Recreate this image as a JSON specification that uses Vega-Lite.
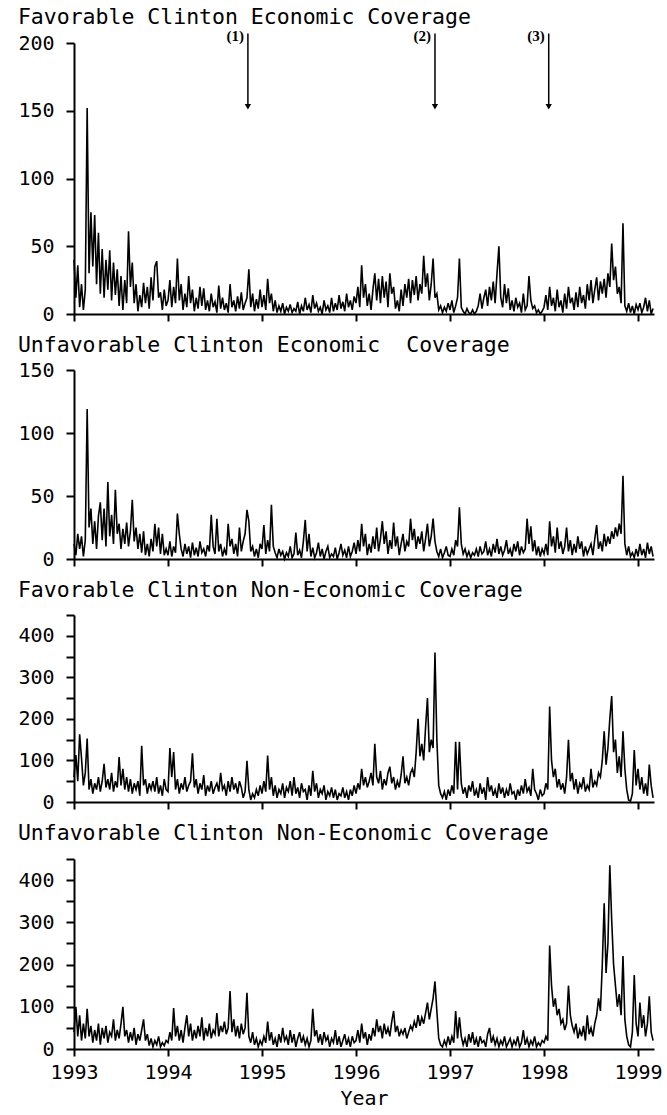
{
"$schema": "https://vega.github.io/schema/vega-lite/v6.json",
"background": "white",
"padding": {"left": 17, "top": 6, "right": 4, "bottom": 4},
"config": {
 "view": {"stroke": null},
 "font": "DejaVu Sans Mono",
 "axis": {"labelFont": "DejaVu Sans Mono", "labelFontSize": 20, "labelColor": "black", "domainColor": "black", "tickColor": "black", "grid": false, "domainWidth": 2, "tickWidth": 2, "titleFont": "DejaVu Sans Mono", "titleFontSize": 20, "titleFontWeight": "normal", "titleColor": "black"},
 "axisY": {"tickSize": 8, "labelPadding": 12},
 "axisX": {"tickSize": 7, "labelFlush": false},
 "title": {"font": "DejaVu Sans Mono", "fontSize": 21.5, "fontWeight": "normal", "anchor": "start", "frame": "bounds", "color": "black"},
 "concat": {"spacing": 10}
},
"datasets": {
"arr": [{"t": 1994.85, "lab": "(1)"}, {"t": 1996.84, "lab": "(2)"}, {"t": 1998.05, "lab": "(3)"}],
"d": [
{"t":1993.00,"fe":40,"ue":12,"fn":60,"un":40},
{"t":1993.02,"fe":12,"ue":3,"fn":113,"un":100},
{"t":1993.04,"fe":36,"ue":20,"fn":50,"un":30},
{"t":1993.06,"fe":5,"ue":8,"fn":163,"un":80},
{"t":1993.08,"fe":22,"ue":18,"fn":105,"un":20},
{"t":1993.10,"fe":3,"ue":2,"fn":40,"un":60},
{"t":1993.12,"fe":18,"ue":15,"fn":70,"un":25},
{"t":1993.14,"fe":152,"ue":119,"fn":153,"un":95},
{"t":1993.16,"fe":30,"ue":25,"fn":30,"un":30},
{"t":1993.18,"fe":75,"ue":40,"fn":55,"un":55},
{"t":1993.20,"fe":35,"ue":12,"fn":20,"un":15},
{"t":1993.22,"fe":73,"ue":30,"fn":45,"un":45},
{"t":1993.24,"fe":22,"ue":8,"fn":30,"un":20},
{"t":1993.26,"fe":60,"ue":34,"fn":60,"un":60},
{"t":1993.28,"fe":15,"ue":45,"fn":25,"un":10},
{"t":1993.30,"fe":48,"ue":15,"fn":50,"un":50},
{"t":1993.32,"fe":12,"ue":40,"fn":92,"un":25},
{"t":1993.34,"fe":40,"ue":10,"fn":35,"un":55},
{"t":1993.36,"fe":18,"ue":61,"fn":55,"un":15},
{"t":1993.38,"fe":47,"ue":18,"fn":30,"un":40},
{"t":1993.40,"fe":10,"ue":35,"fn":70,"un":30},
{"t":1993.42,"fe":38,"ue":12,"fn":25,"un":70},
{"t":1993.44,"fe":14,"ue":55,"fn":50,"un":20},
{"t":1993.46,"fe":33,"ue":20,"fn":35,"un":45},
{"t":1993.48,"fe":6,"ue":28,"fn":108,"un":25},
{"t":1993.50,"fe":28,"ue":8,"fn":40,"un":60},
{"t":1993.52,"fe":3,"ue":24,"fn":80,"un":100},
{"t":1993.54,"fe":25,"ue":12,"fn":30,"un":30},
{"t":1993.56,"fe":8,"ue":29,"fn":60,"un":45},
{"t":1993.58,"fe":61,"ue":10,"fn":25,"un":15},
{"t":1993.60,"fe":20,"ue":22,"fn":55,"un":40},
{"t":1993.62,"fe":38,"ue":47,"fn":20,"un":20},
{"t":1993.64,"fe":8,"ue":14,"fn":45,"un":50},
{"t":1993.66,"fe":22,"ue":25,"fn":30,"un":10},
{"t":1993.68,"fe":2,"ue":8,"fn":50,"un":35},
{"t":1993.70,"fe":14,"ue":20,"fn":15,"un":20},
{"t":1993.72,"fe":5,"ue":5,"fn":135,"un":45},
{"t":1993.74,"fe":23,"ue":22,"fn":40,"un":70},
{"t":1993.76,"fe":8,"ue":3,"fn":55,"un":20},
{"t":1993.78,"fe":20,"ue":12,"fn":20,"un":35},
{"t":1993.80,"fe":4,"ue":2,"fn":45,"un":8},
{"t":1993.82,"fe":27,"ue":16,"fn":30,"un":25},
{"t":1993.84,"fe":10,"ue":6,"fn":50,"un":5},
{"t":1993.86,"fe":35,"ue":28,"fn":25,"un":20},
{"t":1993.88,"fe":39,"ue":10,"fn":60,"un":10},
{"t":1993.90,"fe":12,"ue":25,"fn":20,"un":30},
{"t":1993.92,"fe":16,"ue":4,"fn":40,"un":5},
{"t":1993.94,"fe":3,"ue":20,"fn":15,"un":15},
{"t":1993.96,"fe":18,"ue":3,"fn":55,"un":8},
{"t":1993.98,"fe":6,"ue":8,"fn":30,"un":20},
{"t":1994.00,"fe":10,"ue":3,"fn":25,"un":15},
{"t":1994.02,"fe":25,"ue":14,"fn":130,"un":40},
{"t":1994.04,"fe":5,"ue":2,"fn":60,"un":20},
{"t":1994.06,"fe":20,"ue":10,"fn":120,"un":97},
{"t":1994.08,"fe":8,"ue":5,"fn":30,"un":30},
{"t":1994.10,"fe":41,"ue":36,"fn":55,"un":55},
{"t":1994.12,"fe":10,"ue":20,"fn":20,"un":20},
{"t":1994.14,"fe":22,"ue":8,"fn":45,"un":45},
{"t":1994.16,"fe":3,"ue":2,"fn":30,"un":15},
{"t":1994.18,"fe":15,"ue":12,"fn":60,"un":50},
{"t":1994.20,"fe":5,"ue":4,"fn":25,"un":80},
{"t":1994.22,"fe":28,"ue":10,"fn":40,"un":30},
{"t":1994.24,"fe":8,"ue":1,"fn":50,"un":60},
{"t":1994.26,"fe":18,"ue":13,"fn":117,"un":20},
{"t":1994.28,"fe":2,"ue":3,"fn":35,"un":45},
{"t":1994.30,"fe":12,"ue":9,"fn":55,"un":25},
{"t":1994.32,"fe":4,"ue":2,"fn":20,"un":55},
{"t":1994.34,"fe":20,"ue":14,"fn":45,"un":30},
{"t":1994.36,"fe":6,"ue":5,"fn":30,"un":75},
{"t":1994.38,"fe":19,"ue":8,"fn":65,"un":20},
{"t":1994.40,"fe":3,"ue":2,"fn":15,"un":50},
{"t":1994.42,"fe":10,"ue":11,"fn":40,"un":30},
{"t":1994.44,"fe":2,"ue":6,"fn":25,"un":60},
{"t":1994.46,"fe":15,"ue":35,"fn":50,"un":25},
{"t":1994.48,"fe":5,"ue":10,"fn":20,"un":45},
{"t":1994.50,"fe":9,"ue":4,"fn":35,"un":35},
{"t":1994.52,"fe":1,"ue":32,"fn":45,"un":85},
{"t":1994.54,"fe":21,"ue":6,"fn":25,"un":30},
{"t":1994.56,"fe":4,"ue":12,"fn":70,"un":55},
{"t":1994.58,"fe":12,"ue":2,"fn":30,"un":40},
{"t":1994.60,"fe":3,"ue":8,"fn":40,"un":65},
{"t":1994.62,"fe":8,"ue":3,"fn":15,"un":35},
{"t":1994.64,"fe":1,"ue":28,"fn":50,"un":50},
{"t":1994.66,"fe":22,"ue":10,"fn":25,"un":137},
{"t":1994.68,"fe":5,"ue":16,"fn":60,"un":40},
{"t":1994.70,"fe":10,"ue":4,"fn":30,"un":70},
{"t":1994.72,"fe":2,"ue":12,"fn":45,"un":30},
{"t":1994.74,"fe":13,"ue":2,"fn":20,"un":55},
{"t":1994.76,"fe":4,"ue":25,"fn":50,"un":25},
{"t":1994.78,"fe":16,"ue":6,"fn":35,"un":60},
{"t":1994.80,"fe":3,"ue":14,"fn":10,"un":35},
{"t":1994.82,"fe":8,"ue":20,"fn":25,"un":50},
{"t":1994.84,"fe":12,"ue":39,"fn":99,"un":133},
{"t":1994.86,"fe":33,"ue":30,"fn":30,"un":30},
{"t":1994.88,"fe":5,"ue":6,"fn":5,"un":15},
{"t":1994.90,"fe":15,"ue":10,"fn":20,"un":40},
{"t":1994.92,"fe":2,"ue":2,"fn":10,"un":10},
{"t":1994.94,"fe":11,"ue":8,"fn":30,"un":25},
{"t":1994.96,"fe":4,"ue":1,"fn":15,"un":5},
{"t":1994.98,"fe":18,"ue":12,"fn":40,"un":20},
{"t":1995.00,"fe":5,"ue":8,"fn":20,"un":10},
{"t":1995.02,"fe":14,"ue":27,"fn":50,"un":30},
{"t":1995.04,"fe":3,"ue":4,"fn":25,"un":15},
{"t":1995.06,"fe":26,"ue":15,"fn":112,"un":65},
{"t":1995.08,"fe":8,"ue":6,"fn":30,"un":20},
{"t":1995.10,"fe":15,"ue":43,"fn":60,"un":40},
{"t":1995.12,"fe":2,"ue":10,"fn":15,"un":10},
{"t":1995.14,"fe":10,"ue":5,"fn":40,"un":25},
{"t":1995.16,"fe":1,"ue":1,"fn":10,"un":5},
{"t":1995.18,"fe":6,"ue":8,"fn":30,"un":35},
{"t":1995.20,"fe":2,"ue":3,"fn":20,"un":15},
{"t":1995.22,"fe":8,"ue":6,"fn":45,"un":50},
{"t":1995.24,"fe":0,"ue":0,"fn":10,"un":20},
{"t":1995.26,"fe":5,"ue":5,"fn":35,"un":30},
{"t":1995.28,"fe":2,"ue":2,"fn":25,"un":10},
{"t":1995.30,"fe":7,"ue":10,"fn":50,"un":45},
{"t":1995.32,"fe":1,"ue":1,"fn":15,"un":15},
{"t":1995.34,"fe":4,"ue":4,"fn":60,"un":35},
{"t":1995.36,"fe":2,"ue":21,"fn":20,"un":5},
{"t":1995.38,"fe":9,"ue":3,"fn":35,"un":25},
{"t":1995.40,"fe":0,"ue":7,"fn":10,"un":40},
{"t":1995.42,"fe":6,"ue":1,"fn":45,"un":15},
{"t":1995.44,"fe":2,"ue":14,"fn":25,"un":30},
{"t":1995.46,"fe":12,"ue":31,"fn":30,"un":10},
{"t":1995.48,"fe":3,"ue":6,"fn":5,"un":25},
{"t":1995.50,"fe":7,"ue":20,"fn":40,"un":5},
{"t":1995.52,"fe":1,"ue":2,"fn":15,"un":20},
{"t":1995.54,"fe":14,"ue":9,"fn":75,"un":95},
{"t":1995.56,"fe":4,"ue":1,"fn":25,"un":30},
{"t":1995.58,"fe":8,"ue":5,"fn":45,"un":45},
{"t":1995.60,"fe":2,"ue":13,"fn":10,"un":15},
{"t":1995.62,"fe":5,"ue":2,"fn":30,"un":35},
{"t":1995.64,"fe":0,"ue":8,"fn":20,"un":10},
{"t":1995.66,"fe":10,"ue":0,"fn":40,"un":40},
{"t":1995.68,"fe":3,"ue":6,"fn":5,"un":20},
{"t":1995.70,"fe":6,"ue":10,"fn":25,"un":30},
{"t":1995.72,"fe":1,"ue":1,"fn":15,"un":5},
{"t":1995.74,"fe":12,"ue":4,"fn":35,"un":25},
{"t":1995.76,"fe":2,"ue":2,"fn":10,"un":15},
{"t":1995.78,"fe":8,"ue":9,"fn":30,"un":45},
{"t":1995.80,"fe":3,"ue":0,"fn":5,"un":10},
{"t":1995.82,"fe":14,"ue":5,"fn":20,"un":30},
{"t":1995.84,"fe":4,"ue":12,"fn":15,"un":5},
{"t":1995.86,"fe":9,"ue":3,"fn":35,"un":20},
{"t":1995.88,"fe":2,"ue":7,"fn":10,"un":35},
{"t":1995.90,"fe":15,"ue":1,"fn":25,"un":10},
{"t":1995.92,"fe":5,"ue":10,"fn":5,"un":25},
{"t":1995.94,"fe":10,"ue":2,"fn":30,"un":5},
{"t":1995.96,"fe":3,"ue":6,"fn":15,"un":30},
{"t":1995.98,"fe":13,"ue":13,"fn":40,"un":15},
{"t":1996.00,"fe":8,"ue":4,"fn":20,"un":20},
{"t":1996.02,"fe":20,"ue":15,"fn":45,"un":45},
{"t":1996.04,"fe":5,"ue":6,"fn":30,"un":15},
{"t":1996.06,"fe":36,"ue":28,"fn":80,"un":60},
{"t":1996.08,"fe":12,"ue":10,"fn":40,"un":25},
{"t":1996.10,"fe":22,"ue":20,"fn":60,"un":40},
{"t":1996.12,"fe":6,"ue":3,"fn":35,"un":10},
{"t":1996.14,"fe":15,"ue":12,"fn":50,"un":35},
{"t":1996.16,"fe":3,"ue":5,"fn":70,"un":20},
{"t":1996.18,"fe":18,"ue":18,"fn":40,"un":50},
{"t":1996.20,"fe":30,"ue":8,"fn":140,"un":30},
{"t":1996.22,"fe":10,"ue":25,"fn":60,"un":70},
{"t":1996.24,"fe":26,"ue":6,"fn":45,"un":40},
{"t":1996.26,"fe":8,"ue":16,"fn":75,"un":55},
{"t":1996.28,"fe":28,"ue":30,"fn":30,"un":25},
{"t":1996.30,"fe":12,"ue":12,"fn":55,"un":60},
{"t":1996.32,"fe":24,"ue":22,"fn":40,"un":35},
{"t":1996.34,"fe":5,"ue":4,"fn":70,"un":50},
{"t":1996.36,"fe":30,"ue":15,"fn":85,"un":30},
{"t":1996.38,"fe":15,"ue":8,"fn":45,"un":65},
{"t":1996.40,"fe":20,"ue":29,"fn":60,"un":90},
{"t":1996.42,"fe":4,"ue":10,"fn":30,"un":40},
{"t":1996.44,"fe":10,"ue":18,"fn":50,"un":55},
{"t":1996.46,"fe":2,"ue":3,"fn":35,"un":30},
{"t":1996.48,"fe":18,"ue":12,"fn":65,"un":45},
{"t":1996.50,"fe":6,"ue":20,"fn":110,"un":35},
{"t":1996.52,"fe":22,"ue":6,"fn":45,"un":50},
{"t":1996.54,"fe":12,"ue":14,"fn":60,"un":25},
{"t":1996.56,"fe":26,"ue":10,"fn":40,"un":40},
{"t":1996.58,"fe":8,"ue":32,"fn":70,"un":55},
{"t":1996.60,"fe":25,"ue":15,"fn":80,"un":45},
{"t":1996.62,"fe":14,"ue":24,"fn":60,"un":65},
{"t":1996.64,"fe":28,"ue":8,"fn":120,"un":50},
{"t":1996.66,"fe":10,"ue":18,"fn":200,"un":80},
{"t":1996.68,"fe":22,"ue":12,"fn":110,"un":55},
{"t":1996.70,"fe":15,"ue":22,"fn":140,"un":75},
{"t":1996.72,"fe":43,"ue":6,"fn":100,"un":60},
{"t":1996.74,"fe":20,"ue":16,"fn":180,"un":85},
{"t":1996.76,"fe":30,"ue":28,"fn":250,"un":110},
{"t":1996.78,"fe":10,"ue":10,"fn":120,"un":70},
{"t":1996.80,"fe":22,"ue":18,"fn":150,"un":95},
{"t":1996.82,"fe":41,"ue":32,"fn":130,"un":120},
{"t":1996.84,"fe":12,"ue":14,"fn":360,"un":160},
{"t":1996.86,"fe":15,"ue":6,"fn":150,"un":90},
{"t":1996.88,"fe":3,"ue":2,"fn":40,"un":25},
{"t":1996.90,"fe":6,"ue":8,"fn":20,"un":10},
{"t":1996.92,"fe":1,"ue":1,"fn":10,"un":5},
{"t":1996.94,"fe":5,"ue":5,"fn":25,"un":20},
{"t":1996.96,"fe":2,"ue":10,"fn":5,"un":8},
{"t":1996.98,"fe":8,"ue":3,"fn":30,"un":30},
{"t":1997.00,"fe":3,"ue":2,"fn":15,"un":10},
{"t":1997.02,"fe":10,"ue":8,"fn":40,"un":30},
{"t":1997.04,"fe":1,"ue":3,"fn":20,"un":15},
{"t":1997.06,"fe":6,"ue":15,"fn":145,"un":90},
{"t":1997.08,"fe":12,"ue":10,"fn":30,"un":25},
{"t":1997.10,"fe":41,"ue":41,"fn":145,"un":75},
{"t":1997.12,"fe":5,"ue":12,"fn":45,"un":30},
{"t":1997.14,"fe":2,"ue":4,"fn":20,"un":10},
{"t":1997.16,"fe":0,"ue":8,"fn":35,"un":25},
{"t":1997.18,"fe":4,"ue":2,"fn":10,"un":5},
{"t":1997.20,"fe":1,"ue":6,"fn":40,"un":35},
{"t":1997.22,"fe":0,"ue":1,"fn":25,"un":15},
{"t":1997.24,"fe":3,"ue":5,"fn":50,"un":40},
{"t":1997.26,"fe":0,"ue":3,"fn":15,"un":10},
{"t":1997.28,"fe":2,"ue":8,"fn":30,"un":25},
{"t":1997.30,"fe":6,"ue":2,"fn":10,"un":5},
{"t":1997.32,"fe":15,"ue":10,"fn":45,"un":30},
{"t":1997.34,"fe":4,"ue":4,"fn":20,"un":15},
{"t":1997.36,"fe":12,"ue":6,"fn":35,"un":20},
{"t":1997.38,"fe":18,"ue":14,"fn":5,"un":5},
{"t":1997.40,"fe":6,"ue":3,"fn":60,"un":35},
{"t":1997.42,"fe":20,"ue":8,"fn":25,"un":50},
{"t":1997.44,"fe":10,"ue":2,"fn":40,"un":15},
{"t":1997.46,"fe":24,"ue":12,"fn":15,"un":30},
{"t":1997.48,"fe":8,"ue":5,"fn":30,"un":10},
{"t":1997.50,"fe":30,"ue":16,"fn":10,"un":25},
{"t":1997.52,"fe":50,"ue":4,"fn":45,"un":5},
{"t":1997.54,"fe":12,"ue":10,"fn":20,"un":20},
{"t":1997.56,"fe":5,"ue":3,"fn":35,"un":10},
{"t":1997.58,"fe":22,"ue":7,"fn":10,"un":30},
{"t":1997.60,"fe":8,"ue":15,"fn":30,"un":5},
{"t":1997.62,"fe":19,"ue":4,"fn":15,"un":15},
{"t":1997.64,"fe":3,"ue":8,"fn":45,"un":25},
{"t":1997.66,"fe":10,"ue":2,"fn":20,"un":5},
{"t":1997.68,"fe":2,"ue":12,"fn":25,"un":20},
{"t":1997.70,"fe":12,"ue":6,"fn":5,"un":10},
{"t":1997.72,"fe":5,"ue":14,"fn":30,"un":30},
{"t":1997.74,"fe":8,"ue":3,"fn":15,"un":5},
{"t":1997.76,"fe":1,"ue":10,"fn":40,"un":15},
{"t":1997.78,"fe":15,"ue":5,"fn":20,"un":45},
{"t":1997.80,"fe":3,"ue":8,"fn":55,"un":10},
{"t":1997.82,"fe":6,"ue":32,"fn":25,"un":25},
{"t":1997.84,"fe":28,"ue":12,"fn":35,"un":5},
{"t":1997.86,"fe":10,"ue":26,"fn":15,"un":20},
{"t":1997.88,"fe":4,"ue":6,"fn":80,"un":10},
{"t":1997.90,"fe":6,"ue":15,"fn":30,"un":30},
{"t":1997.92,"fe":1,"ue":3,"fn":20,"un":5},
{"t":1997.94,"fe":3,"ue":10,"fn":5,"un":15},
{"t":1997.96,"fe":0,"ue":2,"fn":30,"un":8},
{"t":1997.98,"fe":2,"ue":8,"fn":15,"un":20},
{"t":1998.00,"fe":5,"ue":4,"fn":20,"un":15},
{"t":1998.02,"fe":14,"ue":12,"fn":45,"un":30},
{"t":1998.04,"fe":3,"ue":3,"fn":30,"un":20},
{"t":1998.06,"fe":20,"ue":30,"fn":230,"un":245},
{"t":1998.08,"fe":6,"ue":10,"fn":100,"un":150},
{"t":1998.10,"fe":12,"ue":18,"fn":60,"un":100},
{"t":1998.12,"fe":2,"ue":5,"fn":80,"un":120},
{"t":1998.14,"fe":18,"ue":25,"fn":35,"un":80},
{"t":1998.16,"fe":5,"ue":8,"fn":55,"un":95},
{"t":1998.18,"fe":10,"ue":14,"fn":30,"un":60},
{"t":1998.20,"fe":1,"ue":4,"fn":45,"un":70},
{"t":1998.22,"fe":15,"ue":10,"fn":20,"un":45},
{"t":1998.24,"fe":4,"ue":25,"fn":60,"un":60},
{"t":1998.26,"fe":20,"ue":6,"fn":150,"un":150},
{"t":1998.28,"fe":8,"ue":15,"fn":50,"un":80},
{"t":1998.30,"fe":12,"ue":3,"fn":70,"un":55},
{"t":1998.32,"fe":3,"ue":12,"fn":30,"un":40},
{"t":1998.34,"fe":16,"ue":5,"fn":55,"un":60},
{"t":1998.36,"fe":5,"ue":18,"fn":20,"un":25},
{"t":1998.38,"fe":20,"ue":8,"fn":45,"un":45},
{"t":1998.40,"fe":8,"ue":14,"fn":35,"un":30},
{"t":1998.42,"fe":14,"ue":2,"fn":60,"un":55},
{"t":1998.44,"fe":4,"ue":10,"fn":25,"un":20},
{"t":1998.46,"fe":22,"ue":4,"fn":40,"un":80},
{"t":1998.48,"fe":10,"ue":8,"fn":30,"un":35},
{"t":1998.50,"fe":25,"ue":12,"fn":80,"un":50},
{"t":1998.52,"fe":8,"ue":3,"fn":35,"un":30},
{"t":1998.54,"fe":18,"ue":16,"fn":50,"un":60},
{"t":1998.56,"fe":27,"ue":27,"fn":40,"un":80},
{"t":1998.58,"fe":10,"ue":8,"fn":70,"un":120},
{"t":1998.60,"fe":24,"ue":14,"fn":60,"un":90},
{"t":1998.62,"fe":15,"ue":6,"fn":100,"un":200},
{"t":1998.64,"fe":26,"ue":20,"fn":170,"un":345},
{"t":1998.66,"fe":12,"ue":10,"fn":90,"un":180},
{"t":1998.68,"fe":30,"ue":18,"fn":130,"un":250},
{"t":1998.70,"fe":20,"ue":12,"fn":200,"un":435},
{"t":1998.72,"fe":52,"ue":22,"fn":255,"un":305},
{"t":1998.74,"fe":25,"ue":16,"fn":120,"un":200},
{"t":1998.76,"fe":35,"ue":25,"fn":150,"un":150},
{"t":1998.78,"fe":15,"ue":18,"fn":70,"un":100},
{"t":1998.80,"fe":20,"ue":28,"fn":110,"un":130},
{"t":1998.82,"fe":8,"ue":20,"fn":60,"un":80},
{"t":1998.84,"fe":67,"ue":66,"fn":170,"un":220},
{"t":1998.86,"fe":6,"ue":12,"fn":80,"un":70},
{"t":1998.88,"fe":2,"ue":3,"fn":30,"un":30},
{"t":1998.90,"fe":8,"ue":10,"fn":5,"un":10},
{"t":1998.92,"fe":1,"ue":2,"fn":2,"un":5},
{"t":1998.94,"fe":6,"ue":5,"fn":20,"un":40},
{"t":1998.96,"fe":0,"ue":1,"fn":125,"un":175},
{"t":1998.98,"fe":7,"ue":8,"fn":40,"un":60},
{"t":1999.00,"fe":3,"ue":2,"fn":80,"un":30},
{"t":1999.02,"fe":8,"ue":12,"fn":30,"un":110},
{"t":1999.04,"fe":1,"ue":3,"fn":60,"un":50},
{"t":1999.06,"fe":5,"ue":8,"fn":20,"un":80},
{"t":1999.08,"fe":12,"ue":1,"fn":45,"un":30},
{"t":1999.10,"fe":2,"ue":13,"fn":15,"un":60},
{"t":1999.12,"fe":10,"ue":4,"fn":90,"un":125},
{"t":1999.14,"fe":0,"ue":10,"fn":40,"un":40},
{"t":1999.16,"fe":4,"ue":2,"fn":10,"un":20}
]
},
"vconcat": [
{
 "title": {"text": "Favorable Clinton Economic Coverage", "offset": 1},
 "width": 580, "height": 271,
 "layer": [
  {"data": {"name": "d"}, "mark": {"type": "line", "color": "black", "strokeWidth": 1.6},
   "encoding": {
    "x": {"field": "t", "type": "quantitative", "scale": {"domain": [1993, 1999.17], "nice": false, "zero": false}, "axis": {"values": [1993,1994,1995,1996,1997,1998,1999], "labels": false, "title": null}},
    "y": {"field": "fe", "type": "quantitative", "scale": {"domain": [0, 200], "nice": false}, "axis": {"values": [0,50,100,150,200], "title": null}}}},
  {"data": {"name": "arr"}, "mark": {"type": "rule", "color": "black", "strokeWidth": 1.5},
   "encoding": {"x": {"field": "t", "type": "quantitative"}, "y": {"datum": 207}, "y2": {"datum": 152}}},
  {"data": {"name": "arr"}, "mark": {"type": "point", "shape": "triangle-down", "filled": true, "color": "black", "size": 40, "opacity": 1},
   "encoding": {"x": {"field": "t", "type": "quantitative"}, "y": {"datum": 153}}},
  {"data": {"name": "arr"}, "mark": {"type": "text", "font": "Liberation Serif", "fontWeight": "bold", "fontSize": 15, "align": "right", "dx": -4, "baseline": "middle", "color": "black"},
   "encoding": {"x": {"field": "t", "type": "quantitative"}, "y": {"datum": 205}, "text": {"field": "lab"}}}
 ]
},
{
 "title": {"text": "Unfavorable Clinton Economic\u00a0 Coverage", "offset": 4},
 "width": 580, "height": 189,
 "data": {"name": "d"},
 "mark": {"type": "line", "color": "black", "strokeWidth": 1.6},
 "encoding": {
  "x": {"field": "t", "type": "quantitative", "scale": {"domain": [1993, 1999.17], "nice": false, "zero": false}, "axis": {"values": [1993,1994,1995,1996,1997,1998,1999], "labels": false, "title": null}},
  "y": {"field": "ue", "type": "quantitative", "scale": {"domain": [0, 150], "nice": false}, "axis": {"values": [0,50,100,150], "title": null}}}
},
{
 "title": {"text": "Favorable Clinton Non-Economic Coverage", "offset": 13},
 "width": 580, "height": 187,
 "data": {"name": "d"},
 "mark": {"type": "line", "color": "black", "strokeWidth": 1.6},
 "encoding": {
  "x": {"field": "t", "type": "quantitative", "scale": {"domain": [1993, 1999.17], "nice": false, "zero": false}, "axis": {"values": [1993,1994,1995,1996,1997,1998,1999], "labels": false, "title": null}},
  "y": {"field": "fn", "type": "quantitative", "scale": {"domain": [0, 450], "nice": false}, "axis": {"values": [0,50,100,150,200,250,300,350,400,450], "labelExpr": "datum.value % 100 === 0 ? datum.label : ''", "title": null}}}
},
{
 "title": {"text": "Unfavorable Clinton Non-Economic Coverage", "offset": 14},
 "width": 580, "height": 190,
 "data": {"name": "d"},
 "mark": {"type": "line", "color": "black", "strokeWidth": 1.6},
 "encoding": {
  "x": {"field": "t", "type": "quantitative", "scale": {"domain": [1993, 1999.17], "nice": false, "zero": false}, "axis": {"values": [1993,1994,1995,1996,1997,1998,1999], "format": "d", "labelPadding": 6, "title": "Year", "titlePadding": 6}},
  "y": {"field": "un", "type": "quantitative", "scale": {"domain": [0, 450], "nice": false}, "axis": {"values": [0,50,100,150,200,250,300,350,400,450], "labelExpr": "datum.value % 100 === 0 ? datum.label : ''", "title": null}}}
}
]
}
